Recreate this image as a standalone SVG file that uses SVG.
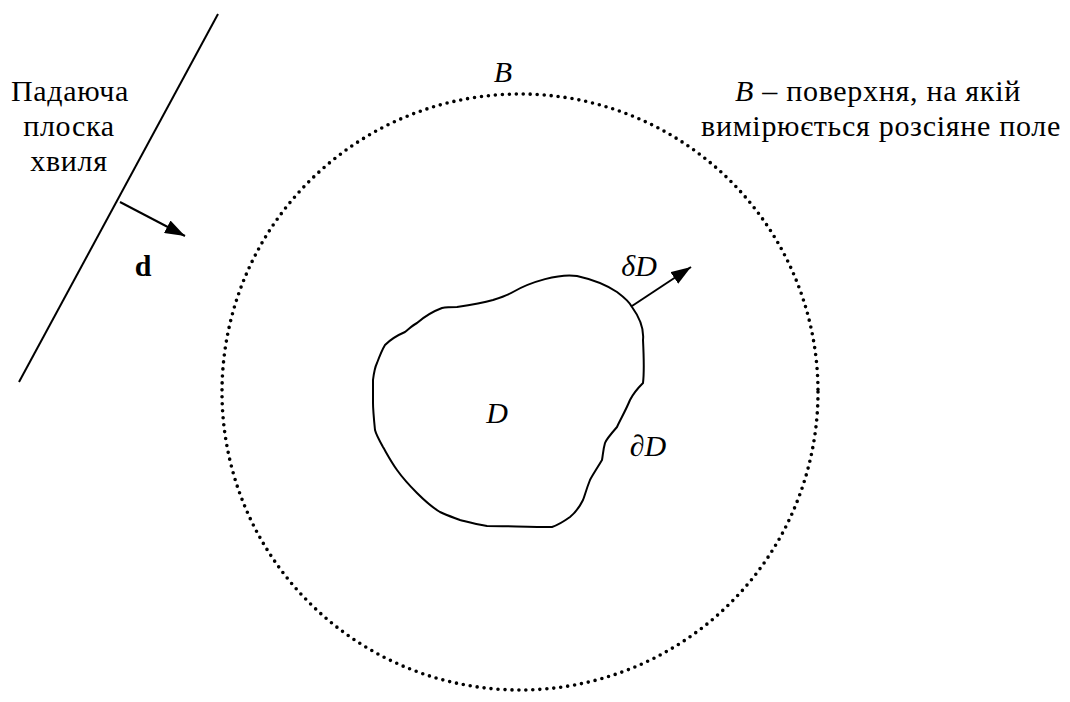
<svg xmlns="http://www.w3.org/2000/svg" width="1070" height="702" viewBox="0 0 1070 702">
<style>
.t{font-family:'Liberation Serif','Times New Roman','DejaVu Serif',serif;font-size:30px;fill:#000}
.s{letter-spacing:0.7px}
.i{font-style:italic}
.b{font-weight:bold}
.ln{stroke:#000;stroke-width:2;fill:none}
</style>
<defs>
<marker id="ah2" viewBox="0 0 20 14" refX="20" refY="7" markerWidth="20" markerHeight="14" markerUnits="userSpaceOnUse" orient="auto">
<path d="M0,0 L20,7 L0,14 Z" fill="#000"/>
</marker>
</defs>
<g id="wave">
<line class="ln" x1="218" y1="14" x2="19" y2="382"/>
<text class="t s" x="70" y="101" text-anchor="middle">Падаюча</text>
<text class="t s" x="69" y="136" text-anchor="middle">плоска</text>
<text class="t s" x="69" y="171" text-anchor="middle">хвиля</text>
</g>
<g id="surfaceB">
<circle cx="520" cy="392" r="298" fill="none" stroke="#000" stroke-width="3.6" stroke-linecap="round" stroke-dasharray="0 7"/>
<text class="t i" x="503" y="82" text-anchor="middle">B</text>
<text class="t s" x="878" y="101" text-anchor="middle"><tspan class="i">B</tspan> – поверхня, на якій</text>
<text class="t s" x="881" y="136" text-anchor="middle">вимірюється розсіяне поле</text>
</g>
<g id="domainD">
<path class="ln" d="M513,292 C530,282 560,273 577,276 C595,280 605,284 617,292 C625,298 630,303 632,307 C640,318 644,330 643,340 C644,360 644,375 643,383 C636,390 632,396 630,400 C625,412 620,420 617,427 C610,435 606,440 605,443 C603,450 603,455 602,460 C596,470 592,476 590,480 C586,490 585,495 583,500 C578,510 575,513 570,517 C563,522 558,525 552,527 C530,527 505,526 487,526 C475,524 468,522 460,520 C452,517 446,515 440,512 C430,506 424,500 417,493 C408,484 402,477 397,470 C390,460 386,452 383,447 C378,438 376,434 375,430 C374,420 373,410 373,403 C373,395 373,388 373,380 C374,372 375,367 377,363 C380,355 382,350 385,345 C392,338 398,335 405,332 C410,328 413,325 417,323 C425,316 434,311 442,308 C447,307 452,307 457,307 C470,305 482,303 493,300 C502,297 508,295 513,292 Z"/>
<text class="t i" x="497" y="423" text-anchor="middle">D</text>
<text class="t i" x="648" y="456" text-anchor="middle">∂D</text>
<text class="t i" x="639" y="276" text-anchor="middle">δD</text>
</g>
<g id="connectors">
<line class="ln" x1="120" y1="202" x2="185" y2="236" marker-end="url(#ah2)"/>
<text class="t b" x="143" y="276" text-anchor="middle">d</text>
<line class="ln" x1="632" y1="306" x2="691" y2="267" marker-end="url(#ah2)"/>
</g>
</svg>
